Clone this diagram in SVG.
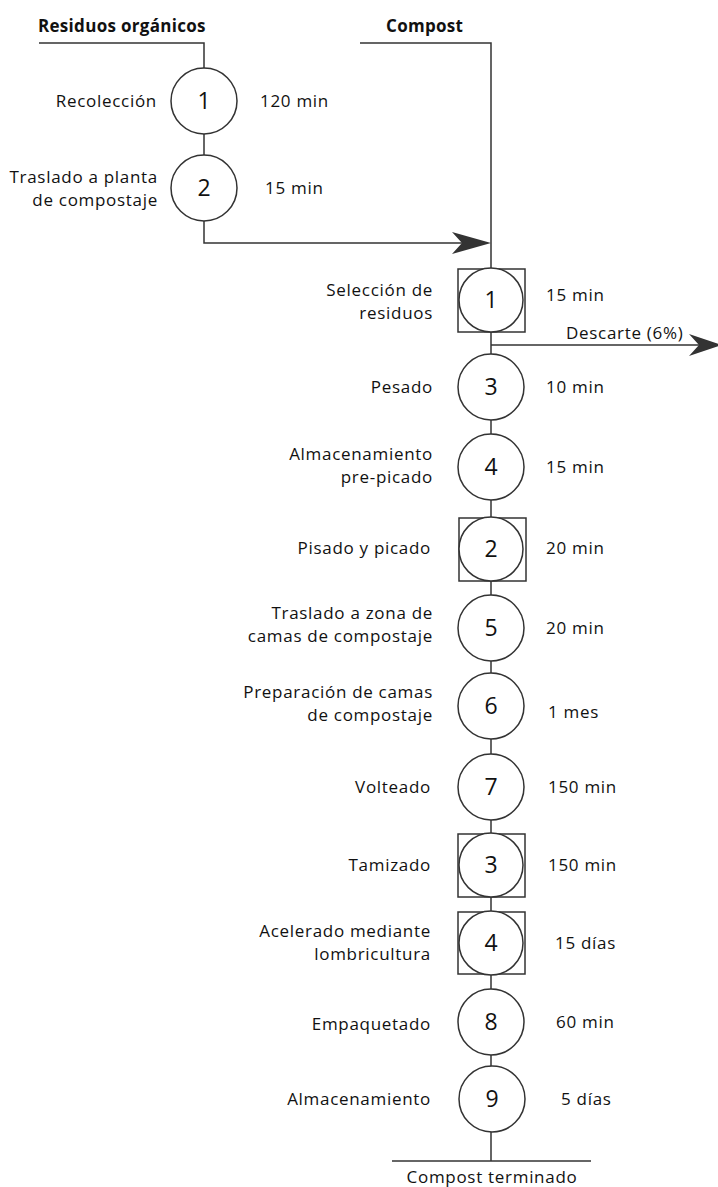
<svg xmlns="http://www.w3.org/2000/svg" width="718" height="1187" viewBox="0 0 718 1187">
  <style>
    .ln { fill: none; stroke: #333; stroke-width: 1.5; }
    .op { fill: #fff; stroke: #333; stroke-width: 1.5; }
    .lbl { font-family: "Open Sans", "Noto Sans", sans-serif; font-size: 17px; fill: #111; letter-spacing: 0.7px; }
    .end { text-anchor: end; }
    .hdr { font-family: "Open Sans", "Noto Sans", sans-serif; font-size: 17px; font-weight: bold; fill: #111; letter-spacing: 0.3px; }
    .num { font-family: "Open Sans", "Noto Sans", sans-serif; font-size: 23px; fill: #111; text-anchor: middle; }
    .head { fill: #333; stroke: none; }
  </style>
  <rect width="718" height="1187" fill="#fff"/>

  <!-- connectors -->
  <g id="connectors">
    <polyline class="ln" points="39,43 204,43 204,70"/>
    <line class="ln" x1="204" y1="133" x2="204" y2="156"/>
    <polyline class="ln" points="204,220 204,243 470,243"/>
    <path class="head" d="M491,243 L452,232 L462,243 L452,254 Z"/>
    <polyline class="ln" points="360,43 491,43 491,269"/>
    <line class="ln" x1="491" y1="332" x2="491" y2="354"/>
    <line class="ln" x1="491" y1="345" x2="700" y2="345"/>
    <path class="head" d="M722,345 L689,334 L699,345 L689,356 Z"/>
    <line class="ln" x1="491" y1="420" x2="491" y2="434"/>
    <line class="ln" x1="491" y1="500" x2="491" y2="517"/>
    <line class="ln" x1="491" y1="581" x2="491" y2="595"/>
    <line class="ln" x1="491" y1="661" x2="491" y2="673"/>
    <line class="ln" x1="491" y1="739" x2="491" y2="754"/>
    <line class="ln" x1="491" y1="820" x2="491" y2="834"/>
    <line class="ln" x1="491" y1="897" x2="491" y2="912"/>
    <line class="ln" x1="491" y1="974" x2="491" y2="989"/>
    <line class="ln" x1="491" y1="1055" x2="491" y2="1066"/>
    <line class="ln" x1="491" y1="1132" x2="491" y2="1161"/>
    <line class="ln" x1="392" y1="1161" x2="591" y2="1161"/>
  </g>

  <!-- headers -->
  <text class="hdr" x="38" y="32">Residuos orgánicos</text>
  <text class="hdr" x="386" y="32">Compost</text>

  <!-- incoming branch -->
  <g id="op-recoleccion">
    <circle class="op" cx="204" cy="101" r="33"/>
    <text class="num" x="204" y="109">1</text>
    <text class="lbl end" x="157" y="107">Recolección</text>
    <text class="lbl" x="260" y="107">120 min</text>
  </g>
  <g id="op-traslado-planta">
    <circle class="op" cx="204" cy="188" r="33"/>
    <text class="num" x="204" y="196">2</text>
    <text class="lbl end" x="158" y="183">Traslado a planta</text>
    <text class="lbl end" x="158" y="206">de compostaje</text>
    <text class="lbl" x="265" y="194">15 min</text>
  </g>

  <!-- main line -->
  <g id="comb-seleccion">
    <rect class="op" x="458" y="269" width="67" height="63"/>
    <circle class="op" cx="491" cy="300" r="32"/>
    <text class="num" x="491" y="308">1</text>
    <text class="lbl end" x="433" y="296">Selección de</text>
    <text class="lbl end" x="433" y="319">residuos</text>
    <text class="lbl" x="546" y="301">15 min</text>
  </g>
  <text id="descarte" class="lbl" x="566" y="339">Descarte (6%)</text>

  <g id="op-pesado">
    <circle class="op" cx="491" cy="387" r="33"/>
    <text class="num" x="491" y="395">3</text>
    <text class="lbl end" x="433" y="393">Pesado</text>
    <text class="lbl" x="546" y="393">10 min</text>
  </g>
  <g id="op-almacenamiento-prepicado">
    <circle class="op" cx="491" cy="467" r="33"/>
    <text class="num" x="491" y="475">4</text>
    <text class="lbl end" x="433" y="460">Almacenamiento</text>
    <text class="lbl end" x="433" y="483">pre-picado</text>
    <text class="lbl" x="546" y="473">15 min</text>
  </g>
  <g id="comb-pisado">
    <rect class="op" x="459" y="518" width="67" height="63"/>
    <circle class="op" cx="491" cy="549" r="32"/>
    <text class="num" x="491" y="557">2</text>
    <text class="lbl end" x="431" y="554">Pisado y picado</text>
    <text class="lbl" x="546" y="554">20 min</text>
  </g>
  <g id="op-traslado-camas">
    <circle class="op" cx="491" cy="628" r="33"/>
    <text class="num" x="491" y="636">5</text>
    <text class="lbl end" x="433" y="619">Traslado a zona de</text>
    <text class="lbl end" x="433" y="642">camas de compostaje</text>
    <text class="lbl" x="546" y="634">20 min</text>
  </g>
  <g id="op-preparacion">
    <circle class="op" cx="491" cy="706" r="33"/>
    <text class="num" x="491" y="714">6</text>
    <text class="lbl end" x="433" y="698">Preparación de camas</text>
    <text class="lbl end" x="433" y="721">de compostaje</text>
    <text class="lbl" x="548" y="718">1 mes</text>
  </g>
  <g id="op-volteado">
    <circle class="op" cx="491" cy="787" r="33"/>
    <text class="num" x="491" y="795">7</text>
    <text class="lbl end" x="431" y="793">Volteado</text>
    <text class="lbl" x="548" y="793">150 min</text>
  </g>
  <g id="comb-tamizado">
    <rect class="op" x="458" y="834" width="67" height="63"/>
    <circle class="op" cx="491" cy="865" r="32"/>
    <text class="num" x="491" y="873">3</text>
    <text class="lbl end" x="431" y="871">Tamizado</text>
    <text class="lbl" x="548" y="871">150 min</text>
  </g>
  <g id="comb-lombricultura">
    <rect class="op" x="458" y="912" width="67" height="62"/>
    <circle class="op" cx="491" cy="943" r="32"/>
    <text class="num" x="491" y="951">4</text>
    <text class="lbl end" x="431" y="937">Acelerado mediante</text>
    <text class="lbl end" x="431" y="960">lombricultura</text>
    <text class="lbl" x="555" y="949">15 días</text>
  </g>
  <g id="op-empaquetado">
    <circle class="op" cx="491" cy="1022" r="33"/>
    <text class="num" x="491" y="1030">8</text>
    <text class="lbl end" x="431" y="1030">Empaquetado</text>
    <text class="lbl" x="556" y="1028">60 min</text>
  </g>
  <g id="op-almacenamiento">
    <circle class="op" cx="492" cy="1099" r="33"/>
    <text class="num" x="492" y="1107">9</text>
    <text class="lbl end" x="431" y="1105">Almacenamiento</text>
    <text class="lbl" x="561" y="1105">5 días</text>
  </g>

  <text id="salida" class="lbl" x="492" y="1183" text-anchor="middle">Compost terminado</text>
</svg>
